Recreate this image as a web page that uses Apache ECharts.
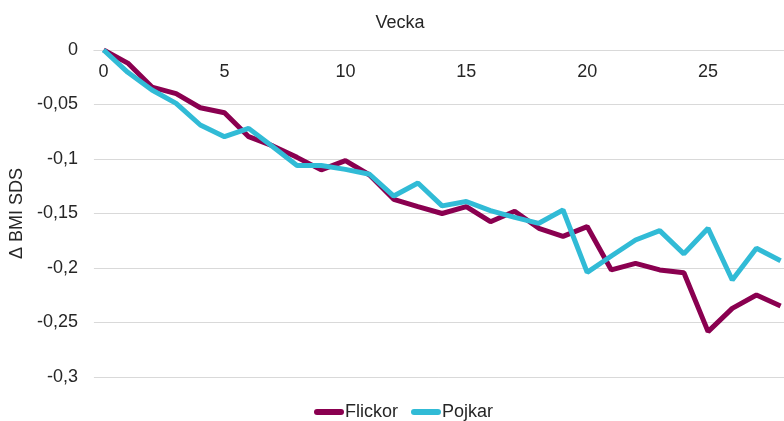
<!DOCTYPE html>
<html>
<head>
<meta charset="utf-8">
<script src="https://cdn.jsdelivr.net/npm/echarts@6/dist/echarts.min.js"></script>
<style>
html,body{margin:0;padding:0;background:#fff;}
#chart{width:784px;height:421px;}
</style>
</head>
<body>
<div id="chart"></div>
<script>
var weeks = [0,1,2,3,4,5,6,7,8,9,10,11,12,13,14,15,16,17,18,19,20,21,22,23,24,25,26,27,28];
var flickor = [0,-0.012,-0.034,-0.040,-0.053,-0.0575,-0.0795,-0.088,-0.0985,-0.110,-0.1015,-0.1147,-0.137,-0.1437,-0.150,-0.1437,-0.1575,-0.148,-0.1636,-0.171,-0.162,-0.2018,-0.1957,-0.2018,-0.2043,-0.2584,-0.237,-0.2248,-0.2349];
var pojkar = [0,-0.0205,-0.0367,-0.049,-0.0688,-0.0795,-0.0719,-0.0887,-0.106,-0.106,-0.1095,-0.114,-0.134,-0.122,-0.143,-0.139,-0.1474,-0.1535,-0.159,-0.1468,-0.204,-0.189,-0.1743,-0.1657,-0.187,-0.1636,-0.211,-0.1819,-0.1933];
var xTickLabels = [0,5,10,15,20,25];
var seriesNames = ['Flickor','Pojkar'];
var xTitle = 'Vecka';
var yTitle = 'Δ BMI SDS';

var font = 'Liberation Sans, Arial, sans-serif';
var textColor = '#262626';
var pill = 'path://M3,0 L27,0 A3,3 0 0 1 27,6 L3,6 A3,3 0 0 1 3,0 Z';

var chart = echarts.init(document.getElementById('chart'));
chart.setOption({
  animation: false,
  title: {
    text: xTitle,
    left: 395,
    top: 9,
    textAlign: 'center',
    textStyle: {fontFamily: font, fontSize: 18, fontWeight: 'normal', color: textColor}
  },
  grid: {left: 92, top: 50, right: 0, height: 327, containLabel: false},
  legend: {
    data: seriesNames,
    left: 309,
    top: 398,
    itemWidth: 30,
    itemHeight: 6,
    itemGap: 13,
    icon: pill,
    textStyle: {fontFamily: font, fontSize: 18, color: textColor, padding: [0,0,0,-4]}
  },
  xAxis: {
    type: 'value',
    position: 'top',
    min: -0.4,
    max: 28.14,
    axisLine: {show: true, lineStyle: {color: '#d9d9d9', width: 1}},
    axisTick: {show: false},
    splitLine: {show: false},
    axisLabel: {
      inside: true,
      margin: 13,
      customValues: xTickLabels,
      fontFamily: font, fontSize: 18, color: textColor
    }
  },
  yAxis: {
    type: 'value',
    min: -0.3,
    max: 0,
    interval: 0.05,
    name: yTitle,
    nameLocation: 'middle',
    nameGap: 60,
    nameTextStyle: {fontFamily: font, fontSize: 18, color: textColor},
    axisLine: {show: false},
    axisTick: {show: false},
    splitLine: {lineStyle: {color: '#d9d9d9', width: 1}},
    axisLabel: {
      margin: 16,
      fontFamily: font, fontSize: 18, color: textColor,
      formatter: function (v) { return String(Math.round(v * 100) / 100).replace('.', ','); }
    }
  },
  series: [
    {
      name: seriesNames[0], type: 'line', showSymbol: false, symbol: 'none',
      data: weeks.map(function (w, i) { return [w, flickor[i]]; }),
      lineStyle: {color: '#8a0050', width: 5},
      itemStyle: {color: '#8a0050'}
    },
    {
      name: seriesNames[1], type: 'line', showSymbol: false, symbol: 'none',
      data: weeks.map(function (w, i) { return [w, pojkar[i]]; }),
      lineStyle: {color: '#31bbd6', width: 5},
      itemStyle: {color: '#31bbd6'}
    }
  ]
});
</script>
</body>
</html>
